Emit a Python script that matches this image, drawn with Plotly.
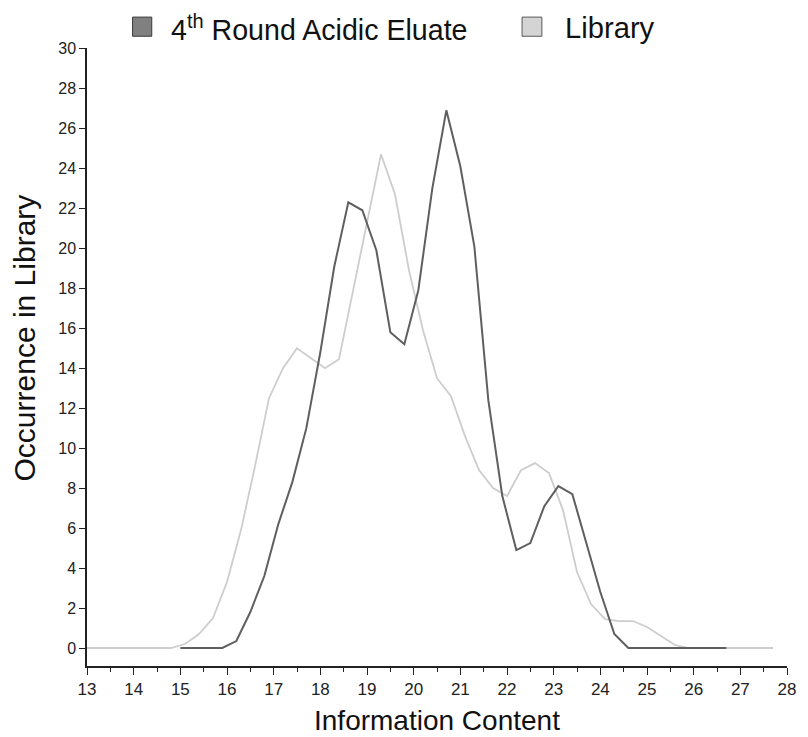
import plotly.graph_objects as go

# Information-content distributions (occurrence, %) for the two sequence pools
eluate_x = [15.0, 15.3, 15.6, 15.9, 16.2, 16.5, 16.8, 17.1, 17.4, 17.7,
            18.0, 18.3, 18.6, 18.9, 19.2, 19.5, 19.8, 20.1, 20.4, 20.7,
            21.0, 21.3, 21.6, 21.9, 22.2, 22.5, 22.8, 23.1, 23.4, 23.7,
            24.0, 24.3, 24.6, 24.9, 25.2, 25.5, 25.8, 26.1, 26.4, 26.7]
eluate_y = [0, 0, 0, 0, 0.35, 1.8, 3.6, 6.2, 8.3, 11.0,
            14.8, 19.1, 22.3, 21.9, 19.9, 15.8, 15.2, 17.9, 23.0, 26.9,
            24.1, 20.1, 12.4, 7.6, 4.9, 5.25, 7.1, 8.1, 7.7, 5.2,
            2.8, 0.7, 0, 0, 0, 0, 0, 0, 0, 0]

library_x = [13.0, 13.3, 13.6, 13.9, 14.2, 14.5, 14.8, 15.1, 15.4, 15.7,
             16.0, 16.3, 16.6, 16.9, 17.2, 17.5, 17.8, 18.1, 18.4, 18.7,
             19.0, 19.3, 19.6, 19.9, 20.2, 20.5, 20.8, 21.1, 21.4, 21.7,
             22.0, 22.3, 22.6, 22.9, 23.2, 23.5, 23.8, 24.1, 24.4, 24.7,
             25.0, 25.3, 25.6, 25.9, 26.2, 26.5, 26.8, 27.1, 27.4, 27.7]
library_y = [0, 0, 0, 0, 0, 0, 0, 0.2, 0.7, 1.5,
             3.3, 5.9, 9.1, 12.5, 14.0, 15.0, 14.5, 14.0, 14.45, 17.9,
             21.4, 24.7, 22.7, 18.9, 15.9, 13.5, 12.6, 10.6, 8.9, 8.0,
             7.6, 8.9, 9.25, 8.75, 6.9, 3.8, 2.2, 1.45, 1.35, 1.35,
             1.05, 0.6, 0.15, 0, 0, 0, 0, 0, 0, 0]

series_names = ["4<sup>th</sup> Round Acidic Eluate", "Library"]
x_ticks = list(range(13, 29))
y_ticks = list(range(0, 31, 2))
x_title = "Information Content"
y_title = "Occurrence in Library"

FONT = "Arial, Liberation Sans, sans-serif"
DARK = "#5f5f5f"
LIGHT = "#cdcdcd"

fig = go.Figure()
fig.add_trace(go.Scatter(x=library_x, y=library_y, mode="lines",
                         line=dict(color=LIGHT, width=1.8), showlegend=False))
fig.add_trace(go.Scatter(x=eluate_x, y=eluate_y, mode="lines",
                         line=dict(color=DARK, width=2), showlegend=False))

# legend drawn by hand: swatch squares and labels above the plot
swatches = [(0.0651, 0.0925, "#808080", "#3a3a3a"),
            (0.6215, 0.6498, "#d4d4d4", "#5a5a5a")]
for x0, x1, fill, edge in swatches:
    fig.add_shape(type="rect", xref="paper", yref="paper",
                  x0=x0, x1=x1, y0=1.019, y1=1.050,
                  fillcolor=fill, line=dict(color=edge, width=1))
for xpos, label, size in zip([0.117, 0.680], series_names, [28.6, 29.2]):
    fig.add_annotation(text=label, xref="paper", yref="paper", x=xpos, y=1.032,
                       xanchor="left", yanchor="middle", showarrow=False,
                       font=dict(family=FONT, size=size, color="#111"))

fig.add_annotation(text=x_title, xref="paper", yref="paper", x=0.5, y=-0.088,
                   xanchor="center", yanchor="middle", showarrow=False,
                   font=dict(family=FONT, size=28, color="#111"))
fig.add_annotation(text=y_title, xref="paper", yref="paper", x=-0.09, y=0.53,
                   xanchor="center", yanchor="middle", showarrow=False,
                   textangle=-90, font=dict(family=FONT, size=30, color="#111"))

fig.update_xaxes(range=[13, 28], tickvals=x_ticks, ticks="outside", ticklen=7,
                 tickwidth=1.2, tickcolor="#222", showline=True, linecolor="#222",
                 linewidth=1.5, showgrid=False, zeroline=False,
                 minor=dict(dtick=0.5, ticks="outside", ticklen=4, tickcolor="#222",
                            tickwidth=1.2, showgrid=False),
                 tickfont=dict(family=FONT, size=17, color="#222"))
fig.update_yaxes(range=[-0.9, 30.02], tickvals=y_ticks, ticks="outside", ticklen=6,
                 tickwidth=1.2, tickcolor="#222", showline=True, linecolor="#222",
                 linewidth=1.5, showgrid=False, zeroline=False,
                 tickfont=dict(family=FONT, size=16, color="#222"))

fig.update_layout(width=808, height=737, plot_bgcolor="white", paper_bgcolor="white",
                  margin=dict(l=87, r=14, t=48, b=71), showlegend=False)

fig.write_html("out.html")
